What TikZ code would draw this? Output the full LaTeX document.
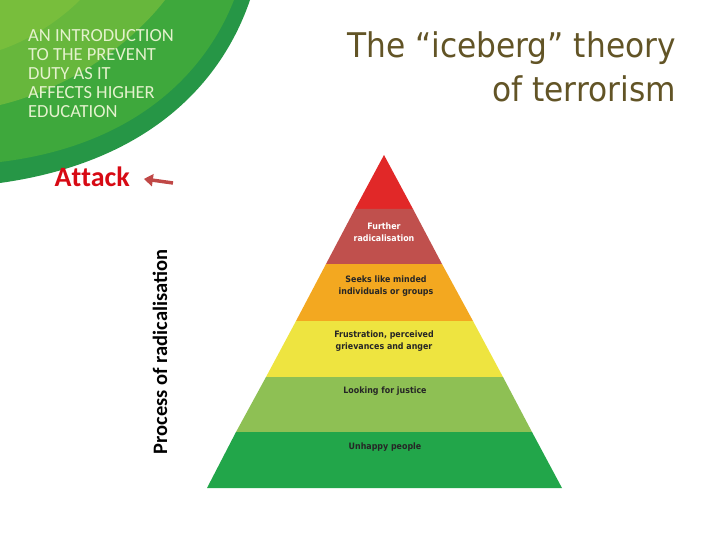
\documentclass[tikz,border=0pt]{standalone}
\usepackage{fontspec}
\setmainfont{Liberation Sans}
\newfontfamily\headfont{Carlito}
\newfontfamily\titlefont[FakeStretch=0.92]{DejaVu Sans}
\newfontfamily\bandfont[FakeStretch=0.9]{DejaVu Sans}
\usepackage{tikz}
\usetikzlibrary{arrows.meta,calc}

\definecolor{swooshdark}{RGB}{38,150,70}
\definecolor{swooshmid}{RGB}{62,168,60}
\definecolor{swooshlight}{RGB}{120,190,60}
\definecolor{headtext}{RGB}{228,242,205}
\definecolor{titlebrown}{RGB}{98,84,38}
\definecolor{attackred}{RGB}{215,10,20}
\definecolor{arrowred}{RGB}{192,72,70}
\definecolor{tipred}{RGB}{225,40,40}
\definecolor{radred}{RGB}{192,80,77}
\definecolor{seekorange}{RGB}{243,168,32}
\definecolor{frustyellow}{RGB}{238,228,64}
\definecolor{justgreen}{RGB}{142,192,84}
\definecolor{unhappygreen}{RGB}{34,166,74}

\tikzset{
  bandlabel/.style={font=\bandfont\bfseries\fontsize{8.8}{12}\selectfont, align=center, text=black!85},
}

\begin{document}
\begin{tikzpicture}[x=1pt,y=-1pt]
      \useasboundingbox (0,0) rectangle (720,540);
      % corner swoosh
      \fill [swooshdark] (0,0) -- (250,0) .. controls (222,82) and (150,162) .. (0,183) -- cycle;
      \fill [swooshmid] (0,0) -- (234,0) .. controls (204,76) and (132,146) .. (0,162) -- cycle;
      \fill [swooshlight!70!swooshmid] (0,0) -- (165,0) .. controls (130,45) and (70,88) .. (0,105) -- cycle;
      \fill [swooshlight] (0,0) -- (80,0) .. controls (60,20) and (30,40) .. (0,50) -- cycle;
      \node (heading) [anchor=north west, align=left, text=headtext, font=\headfont\fontsize{18.5}{19}\selectfont, inner sep=0pt] at (28,29)
        {AN INTRODUCTION\\TO THE PREVENT\\DUTY AS IT\\AFFECTS HIGHER\\EDUCATION};
      \node (title) [anchor=north east, align=right, text=titlebrown, font=\titlefont\fontsize{34}{44}\selectfont, inner sep=0pt] at (676,31)
        {The “iceberg” theory\\of terrorism};
      % pyramid bands
      \draw [fill=tipred, draw=none] (384,155) -- (413,209) -- (355,209) -- cycle;
      \draw [fill=radred, draw=none] (355,209) -- (413,209) -- (442,264) -- (326,264) -- cycle;
      \draw [fill=seekorange, draw=none] (326,264) -- (442,264) -- (473,321) -- (296,321) -- cycle;
      \draw [fill=frustyellow, draw=none] (296,321) -- (473,321) -- (503,377) -- (266,377) -- cycle;
      \draw [fill=justgreen, draw=none] (266,377) -- (503,377) -- (532,432) -- (236,432) -- cycle;
      \draw [fill=unhappygreen, draw=none] (236,432) -- (532,432) -- (562,488) -- (207,488) -- cycle;
      \node (further) [bandlabel, text=white] at (384,232) {Further\\radicalisation};
      \node (seeks) [bandlabel] at (386,286) {Seeks like minded\\individuals or groups};
      \node (frustration) [bandlabel] at (384,341) {Frustration, perceived\\grievances and anger};
      \node (justice) [bandlabel] at (385,391) {Looking for justice};
      \node (unhappy) [bandlabel] at (385,447) {Unhappy people};
      % side labels
      \node (attack) [anchor=east, text=attackred, font=\headfont\bfseries\fontsize{28}{28}\selectfont, inner sep=0pt] at (130,177) {A\kern0pt t\kern0pt tack};
      \node (process) [rotate=90, font=\headfont\bfseries\fontsize{20.5}{20.5}\selectfont] at (160,352) {Process of radicalisation};
      \coordinate (arrowtail) at (173,183);
      \draw [-{Triangle[length=9pt,width=12pt]}, arrowred, line width=3.5pt, shorten >=14pt] (arrowtail) -- (attack.east);
    \end{tikzpicture}
\end{document}
